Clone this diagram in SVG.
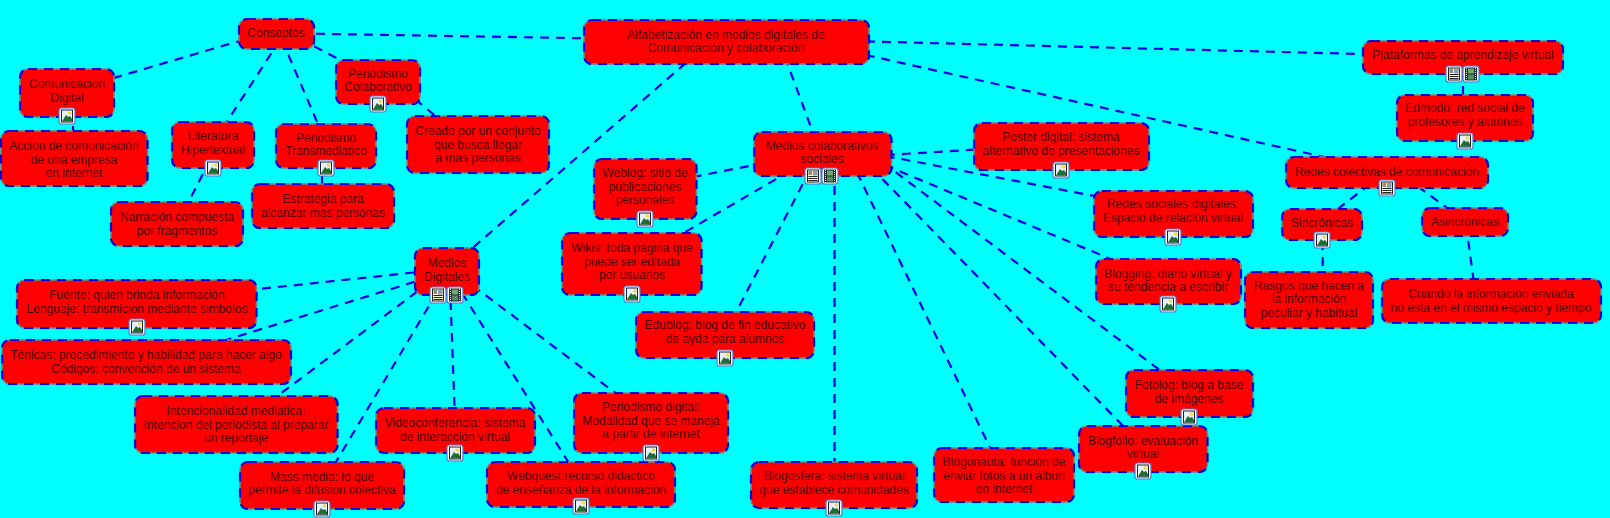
<svg xmlns="http://www.w3.org/2000/svg" width="1610" height="518" viewBox="0 0 1610 518">
<style>
.bg{fill:#00ffff}
.e line{stroke:#0000e6;stroke-width:2.2;stroke-dasharray:9 7;fill:none}
.n rect.b{fill:#ff0000;stroke:#808080;stroke-width:1.5}
.n rect.d{fill:none;stroke:#0000d8;stroke-width:2.2;stroke-dasharray:9 7}
.n text{font-family:"Liberation Sans",Arial,sans-serif;font-size:12px;fill:#500000;text-anchor:middle}
</style>
<defs>
<g id="fr"><rect x="-8" y="-8" width="16" height="16" rx="2.5" fill="#fff" stroke="#4f78d0" stroke-width="1.2"/></g>
<g id="pic"><use href="#fr"/><rect x="-5.5" y="-6" width="11" height="12" fill="#e6effa" stroke="#223" stroke-width="1"/><circle cx="2.5" cy="-3" r="1.8" fill="#f4d84a"/><path d="M-5 5.500 L-1 -1 L1 1 L3 0 L5 3 V5.500 Z" fill="#1f6d32"/></g>
<g id="doc"><use href="#fr"/><rect x="-5.5" y="-6" width="11" height="12" fill="#fffbc8" stroke="#222" stroke-width="1"/><rect x="0" y="-5" width="4.5" height="4.5" fill="#8a9ab8"/><path d="M-4.5 -4H-1M-4.5 -2H-1M-4.5 0.5H4.5M-4.5 2.5H4.5M-4.5 4.5H4.5" stroke="#222" stroke-width="1" fill="none"/></g>
<g id="film"><use href="#fr"/><rect x="-6" y="-6.5" width="12" height="13" fill="#222c33"/><rect x="-3" y="-5.5" width="6" height="5" fill="#6faa6a"/><rect x="-3" y="0.5" width="6" height="5" fill="#4f8f58"/><path d="M-4.5 -6V6.5M4.5 -6V6.5" stroke="#dfe6ee" stroke-width="1" stroke-dasharray="1 1"/></g>
</defs>
<rect class="bg" width="1610" height="518"/>
<g id="connectors" class="e">
<line x1="300" y1="33.500" x2="600" y2="38.500"/>
<line x1="260" y1="35" x2="100" y2="82"/>
<line x1="280" y1="40" x2="221.500" y2="130"/>
<line x1="282" y1="40" x2="320.500" y2="130"/>
<line x1="300" y1="39" x2="350" y2="65"/>
<line x1="73" y1="110" x2="73" y2="140"/>
<line x1="210" y1="160" x2="184.500" y2="210"/>
<line x1="322" y1="160" x2="322" y2="190"/>
<line x1="415" y1="99" x2="445" y2="124"/>
<line x1="710" y1="42" x2="446" y2="271"/>
<line x1="785" y1="57" x2="812" y2="130"/>
<line x1="850" y1="41" x2="1380" y2="54.500"/>
<line x1="850" y1="51.500" x2="1340" y2="160.500"/>
<line x1="1463" y1="70" x2="1463" y2="100"/>
<line x1="1370" y1="184" x2="1325" y2="219"/>
<line x1="1405" y1="177" x2="1460" y2="217.500"/>
<line x1="1322.700" y1="241" x2="1322.700" y2="280"/>
<line x1="1466" y1="225" x2="1475" y2="290"/>
<line x1="780" y1="160" x2="680" y2="179.500"/>
<line x1="790" y1="171" x2="670" y2="240.900"/>
<line x1="810" y1="170" x2="730" y2="324"/>
<line x1="834.500" y1="170" x2="834.500" y2="470"/>
<line x1="850" y1="158" x2="995" y2="458"/>
<line x1="860" y1="156" x2="1125" y2="428"/>
<line x1="870" y1="153" x2="1165" y2="374"/>
<line x1="870" y1="159" x2="1130" y2="267"/>
<line x1="870" y1="153" x2="1110" y2="199"/>
<line x1="870" y1="156" x2="985" y2="149"/>
<line x1="430" y1="270.800" x2="240" y2="291"/>
<line x1="430" y1="277" x2="200" y2="348"/>
<line x1="430" y1="282" x2="260" y2="409"/>
<line x1="445" y1="279" x2="330" y2="472"/>
<line x1="450" y1="285" x2="455" y2="420"/>
<line x1="445" y1="266" x2="574.600" y2="472"/>
<line x1="460" y1="276" x2="630" y2="404"/>
</g>
<g id="n1" class="n"><rect class="b" x="239" y="19" width="75" height="30" rx="8"/><rect class="d" x="239" y="19" width="75" height="30" rx="8"/><text x="276" y="37">Conseptos</text></g>
<g id="n2" class="n"><rect class="b" x="20" y="69" width="94" height="48" rx="8"/><rect class="d" x="20" y="69" width="94" height="48" rx="8"/><text x="67" y="88">Comunicación</text><text x="67" y="102">Digital</text><use href="#pic" x="67" y="116"/></g>
<g id="n3" class="n"><rect class="b" x="1" y="131" width="146.500" height="55" rx="8"/><rect class="d" x="1" y="131" width="146.500" height="55" rx="8"/><text x="74" y="150">Accion de comunicación</text><text x="74" y="164">de una empresa</text><text x="74" y="177">en internet</text></g>
<g id="n4" class="n"><rect class="b" x="172" y="122" width="82" height="46" rx="8"/><rect class="d" x="172" y="122" width="82" height="46" rx="8"/><text x="213" y="140">Literatura</text><text x="213" y="154">Hipertextual</text><use href="#pic" x="213" y="168"/></g>
<g id="n5" class="n"><rect class="b" x="276" y="124" width="100" height="44" rx="8"/><rect class="d" x="276" y="124" width="100" height="44" rx="8"/><text x="326" y="142">Periodismo</text><text x="326" y="155">Transmediatico</text><use href="#pic" x="326" y="168"/></g>
<g id="n6" class="n"><rect class="b" x="252" y="184" width="142" height="44" rx="8"/><rect class="d" x="252" y="184" width="142" height="44" rx="8"/><text x="323" y="203">Estrategia para</text><text x="323" y="217">alcanzar mas personas</text></g>
<g id="n7" class="n"><rect class="b" x="111" y="202" width="132" height="44" rx="8"/><rect class="d" x="111" y="202" width="132" height="44" rx="8"/><text x="177" y="221">Narración compuesta</text><text x="177" y="235">por fragmentos</text></g>
<g id="n8" class="n"><rect class="b" x="336" y="60" width="84" height="44" rx="8"/><rect class="d" x="336" y="60" width="84" height="44" rx="8"/><text x="378" y="78">Periodismo</text><text x="378" y="91">Colaborativo</text><use href="#pic" x="378" y="104"/></g>
<g id="n9" class="n"><rect class="b" x="407" y="116" width="142" height="57" rx="8"/><rect class="d" x="407" y="116" width="142" height="57" rx="8"/><text x="478" y="135">Creado por un conjunto</text><text x="478" y="149">que busca llegar</text><text x="478" y="162">a mas personas</text></g>
<g id="n10" class="n"><rect class="b" x="584" y="20" width="285" height="44" rx="8"/><rect class="d" x="584" y="20" width="285" height="44" rx="8"/><text x="726" y="39">Alfabetización en medios digitales de</text><text x="726" y="52">Comunicación y colaboración</text></g>
<g id="n11" class="n"><rect class="b" x="754" y="132" width="137.500" height="44" rx="8"/><rect class="d" x="754" y="132" width="137.500" height="44" rx="8"/><text x="822" y="150">Medios colaborativos</text><text x="822" y="163">sociales</text><use href="#doc" x="813" y="176"/><use href="#film" x="830" y="176"/></g>
<g id="n12" class="n"><rect class="b" x="594" y="159" width="102.500" height="60" rx="8"/><rect class="d" x="594" y="159" width="102.500" height="60" rx="8"/><text x="645" y="177">Weblog: sitio de</text><text x="645" y="191">publicaciones</text><text x="645" y="204">personales</text><use href="#pic" x="645" y="219"/></g>
<g id="n13" class="n"><rect class="b" x="562" y="233" width="139.500" height="62" rx="8"/><rect class="d" x="562" y="233" width="139.500" height="62" rx="8"/><text x="632" y="252">Wikis: toda página que</text><text x="632" y="266">puede ser editada</text><text x="632" y="279">por usuarios</text><use href="#pic" x="632" y="294"/></g>
<g id="n14" class="n"><rect class="b" x="974" y="123" width="175" height="47" rx="8"/><rect class="d" x="974" y="123" width="175" height="47" rx="8"/><text x="1061" y="141">Poster digital: sistema</text><text x="1061" y="155">alternativo de presentaciones</text><use href="#pic" x="1061" y="170"/></g>
<g id="n15" class="n"><rect class="b" x="1094" y="191" width="159" height="46" rx="8"/><rect class="d" x="1094" y="191" width="159" height="46" rx="8"/><text x="1173" y="208">Redes sociales digitales:</text><text x="1173" y="222">Espacio de relación virtual</text><use href="#pic" x="1173" y="237"/></g>
<g id="n16" class="n"><rect class="b" x="1363" y="41" width="200" height="33" rx="8"/><rect class="d" x="1363" y="41" width="200" height="33" rx="8"/><text x="1463" y="59">Plataformas de aprendizaje virtual</text><use href="#doc" x="1454" y="74"/><use href="#film" x="1471" y="74"/></g>
<g id="n17" class="n"><rect class="b" x="1397" y="95" width="136" height="46" rx="8"/><rect class="d" x="1397" y="95" width="136" height="46" rx="8"/><text x="1465" y="112">Edmodo: red social de</text><text x="1465" y="126">profesores y alumnos</text><use href="#pic" x="1465" y="141"/></g>
<g id="n18" class="n"><rect class="b" x="1286" y="157" width="202" height="31" rx="8"/><rect class="d" x="1286" y="157" width="202" height="31" rx="8"/><text x="1387" y="176">Redes colectivas de comunicación</text><use href="#doc" x="1387" y="188"/></g>
<g id="n19" class="n"><rect class="b" x="1282" y="209" width="80" height="31" rx="8"/><rect class="d" x="1282" y="209" width="80" height="31" rx="8"/><text x="1322" y="227">Sincrónicas</text><use href="#pic" x="1322" y="240"/></g>
<g id="n20" class="n"><rect class="b" x="1422" y="208" width="86" height="28" rx="8"/><rect class="d" x="1422" y="208" width="86" height="28" rx="8"/><text x="1465" y="226">Asincrónicas</text></g>
<g id="n21" class="n"><rect class="b" x="1245" y="272" width="128" height="56" rx="8"/><rect class="d" x="1245" y="272" width="128" height="56" rx="8"/><text x="1309" y="290">Rasgos que hacen a</text><text x="1309" y="303">la información</text><text x="1309" y="317">peculiar y habitual</text></g>
<g id="n22" class="n"><rect class="b" x="1382" y="279" width="219" height="44" rx="8"/><rect class="d" x="1382" y="279" width="219" height="44" rx="8"/><text x="1491" y="298">Cuando la información enviada</text><text x="1491" y="312">no esta en el mismo espacio y tiempo</text></g>
<g id="n23" class="n"><rect class="b" x="1096" y="259" width="145" height="45" rx="8"/><rect class="d" x="1096" y="259" width="145" height="45" rx="8"/><text x="1168" y="278">Blogging: diario virtual y</text><text x="1168" y="291">su tendencia a escribir</text><use href="#pic" x="1168" y="304"/></g>
<g id="n24" class="n"><rect class="b" x="415" y="248" width="64" height="47" rx="8"/><rect class="d" x="415" y="248" width="64" height="47" rx="8"/><text x="447" y="267">Medios</text><text x="447" y="281">Digitales</text><use href="#doc" x="438" y="295"/><use href="#film" x="455" y="295"/></g>
<g id="n25" class="n"><rect class="b" x="17" y="280" width="239.500" height="48" rx="8"/><rect class="d" x="17" y="280" width="239.500" height="48" rx="8"/><text x="137" y="299">Fuente: quien brinda información</text><text x="137" y="313">Lenguaje: transmicion mediante simbolos</text><use href="#pic" x="137" y="327"/></g>
<g id="n26" class="n"><rect class="b" x="2" y="340" width="289" height="44" rx="8"/><rect class="d" x="2" y="340" width="289" height="44" rx="8"/><text x="146" y="359">Ténicas: procedimiento y habilidad para hacer algo</text><text x="146" y="373">Códigos: convención de un sistema</text></g>
<g id="n27" class="n"><rect class="b" x="135" y="396" width="202.500" height="57" rx="8"/><rect class="d" x="135" y="396" width="202.500" height="57" rx="8"/><text x="236" y="415">Intencionalidad mediatica:</text><text x="236" y="429">Intencion del periodista al preparar</text><text x="236" y="442">un reportaje</text></g>
<g id="n28" class="n"><rect class="b" x="376" y="408" width="159" height="45" rx="8"/><rect class="d" x="376" y="408" width="159" height="45" rx="8"/><text x="455" y="427">Videoconferencia: sistema</text><text x="455" y="441">de interacción virtual</text><use href="#pic" x="455" y="453"/></g>
<g id="n29" class="n"><rect class="b" x="240" y="462" width="164" height="47" rx="8"/><rect class="d" x="240" y="462" width="164" height="47" rx="8"/><text x="322" y="481">Mass media: lo que</text><text x="322" y="494">permite la difusión colectiva</text><use href="#pic" x="322" y="509"/></g>
<g id="n30" class="n"><rect class="b" x="487" y="462" width="188" height="45" rx="8"/><rect class="d" x="487" y="462" width="188" height="45" rx="8"/><text x="581" y="480">Webquest:recurso didactico</text><text x="581" y="494">de enseñanza de la información</text><use href="#pic" x="581" y="506"/></g>
<g id="n31" class="n"><rect class="b" x="636" y="312" width="178" height="46" rx="8"/><rect class="d" x="636" y="312" width="178" height="46" rx="8"/><text x="725" y="329">Edublog: blog de fin educativo</text><text x="725" y="343">de ayda para alumnos</text><use href="#pic" x="725" y="358"/></g>
<g id="n32" class="n"><rect class="b" x="574" y="393" width="154" height="60" rx="8"/><rect class="d" x="574" y="393" width="154" height="60" rx="8"/><text x="651" y="411">Periodismo digital:</text><text x="651" y="425">Modalidad que se maneja</text><text x="651" y="438">a partir de internet</text><use href="#pic" x="651" y="453"/></g>
<g id="n33" class="n"><rect class="b" x="751" y="462" width="166" height="46" rx="8"/><rect class="d" x="751" y="462" width="166" height="46" rx="8"/><text x="834" y="480">Blogosfera: sistema virtual</text><text x="834" y="494">que establece comunidades</text><use href="#pic" x="834" y="508"/></g>
<g id="n34" class="n"><rect class="b" x="934" y="448" width="140" height="54" rx="8"/><rect class="d" x="934" y="448" width="140" height="54" rx="8"/><text x="1004" y="466">Blogonauta: función de</text><text x="1004" y="480">enviar fotos a un álbun</text><text x="1004" y="493">en internet</text></g>
<g id="n35" class="n"><rect class="b" x="1079" y="426" width="128.500" height="46" rx="8"/><rect class="d" x="1079" y="426" width="128.500" height="46" rx="8"/><text x="1143" y="445">Blogfolio: evaluación</text><text x="1143" y="458">virtual</text><use href="#pic" x="1143" y="471"/></g>
<g id="n36" class="n"><rect class="b" x="1126" y="370" width="127" height="47" rx="8"/><rect class="d" x="1126" y="370" width="127" height="47" rx="8"/><text x="1189" y="389">Fotolog: blog a base</text><text x="1189" y="403">de imágenes</text><use href="#pic" x="1189" y="417"/></g>
</svg>
